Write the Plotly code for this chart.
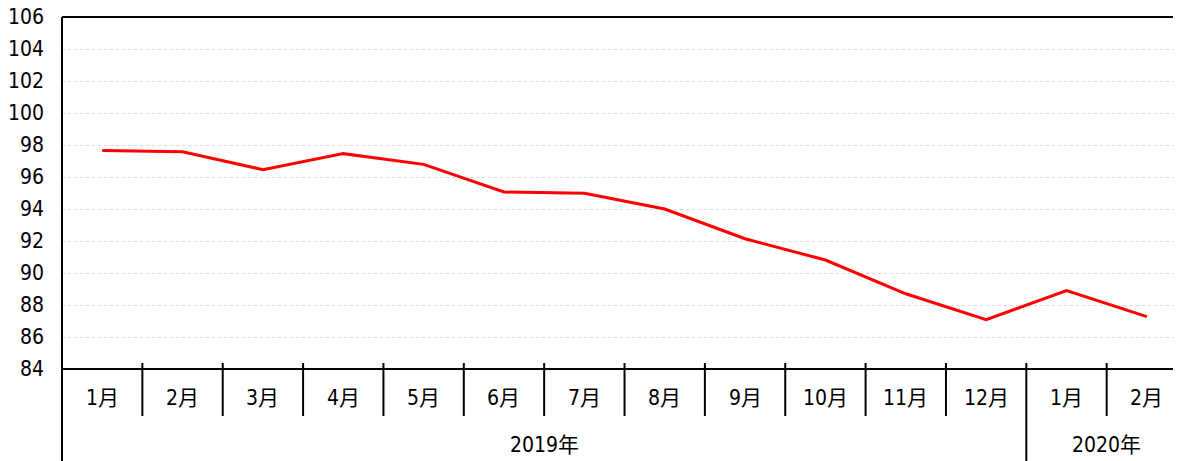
import plotly.graph_objects as go

months = ["1月", "2月", "3月", "4月", "5月", "6月", "7月", "8月", "9月", "10月", "11月", "12月", "1月", "2月"]
years = ["2019年", "2020年"]
year_counts = [12, 2]
values = [97.66, 97.58, 96.46, 97.46, 96.79, 95.06, 94.98, 94.0, 92.14, 90.81, 88.7, 87.08, 88.9, 87.27]
y_ticks = list(range(84, 107, 2))

# page body has an 8px default margin; compensate
W, H = 1173, 453
ML, MT, MB = 54, 9, 92
n = len(months)
cat_w = 80.36
plot_w = W - ML
x_max = -0.5 + plot_w / cat_w

FONT = "DejaVu Sans Condensed, Noto Sans CJK JP, sans-serif"

x = list(range(n))
fig = go.Figure()
fig.add_trace(go.Scatter(x=x, y=values, mode="lines",
                         line=dict(color="#ff0000", width=3),
                         showlegend=False, hoverinfo="skip", cliponaxis=False))

ph = H - MT - MB
shapes = []
shapes.append(dict(type="line", xref="paper", yref="paper", x0=0, x1=1.0, y0=1, y1=1,
                   line=dict(color="black", width=2)))
shapes.append(dict(type="line", xref="paper", yref="paper", x0=0, x1=1.0, y0=0, y1=0,
                   line=dict(color="black", width=2)))
shapes.append(dict(type="line", xref="paper", yref="paper", x0=0, x1=0, y0=1, y1=-(MB + 10) / ph,
                   line=dict(color="black", width=2)))

tick_up = 6 / ph
month_row = 47 / ph
year_bounds = []
acc = 0
for c in year_counts:
    acc += c
    year_bounds.append(acc - 0.5)
for i in range(n - 1):
    b = i + 0.5
    y1 = -(MB + 10) / ph if b in year_bounds else -month_row
    shapes.append(dict(type="line", xref="x", yref="paper", x0=b, x1=b, y0=tick_up, y1=y1,
                       line=dict(color="black", width=2)))

annotations = []
for i, m in enumerate(months):
    annotations.append(dict(x=i, y=-29 / ph, xref="x", yref="paper", text=m, showarrow=False,
                            font=dict(family=FONT, size=21, color="black"),
                            xanchor="center", yanchor="middle"))
start = 0
for yr, c in zip(years, year_counts):
    center = start + (c - 1) / 2
    annotations.append(dict(x=center, y=-76 / ph, xref="x", yref="paper", text=yr, showarrow=False,
                            font=dict(family=FONT, size=21, color="black"),
                            xanchor="center", yanchor="middle"))
    start += c

fig.update_layout(
    width=W, height=H,
    margin=dict(l=ML, r=0, t=MT, b=MB, pad=0, autoexpand=False),
    paper_bgcolor="white", plot_bgcolor="white",
    shapes=shapes, annotations=annotations,
    xaxis=dict(range=[-0.5, x_max], showgrid=False, showticklabels=False, zeroline=False,
               showline=False, ticks="", fixedrange=True, automargin=False),
    yaxis=dict(range=[84, 106], tickvals=y_ticks, ticktext=[str(v) for v in y_ticks],
               showgrid=True, gridcolor="#d9d9d9", gridwidth=1, griddash="dot",
               zeroline=False, showline=False, ticks="",
               tickfont=dict(family=FONT, size=21, color="black"),
               ticklabelstandoff=17, ticklabeloverflow="allow",
               fixedrange=True, automargin=False),
)

fig.write_html("out.html", config={"displayModeBar": False})
